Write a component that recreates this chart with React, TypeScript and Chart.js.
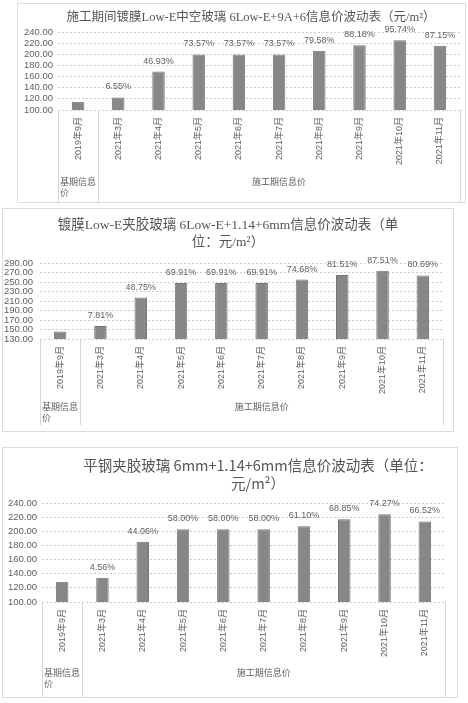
import React, { useEffect, useRef } from "react";
import { Chart, registerables } from "chart.js";
import type { ChartConfiguration, Plugin } from "chart.js";

Chart.register(...registerables);

// categories shared by all three charts
const months = [
  "2019年9月",
  "2021年3月",
  "2021年4月",
  "2021年5月",
  "2021年6月",
  "2021年7月",
  "2021年8月",
  "2021年9月",
  "2021年10月",
  "2021年11月",
];

// second level of the category axis
const groupNames = [["基期信息", "价"], ["施工期信息价"]];
const groupFirst = [0, 1];
const groupLast = [0, 9];

// 6Low-E+9A+6 hollow glass
const hollowPrices = [115.0, 122.53, 168.97, 199.61, 199.61, 199.61, 206.52, 216.41, 225.1, 215.22];
const hollowRises = ["", "6.55%", "46.93%", "73.57%", "73.57%", "73.57%", "79.58%", "88.18%", "95.74%", "87.15%"];
const hollowTicks = [100, 240, 20];

// 6Low-E+1.14+6mm laminated glass
const lowELamPrices = [146.0, 157.4, 217.18, 248.07, 248.07, 248.07, 255.03, 265.0, 273.76, 263.81];
const lowELamRises = ["", "7.81%", "48.75%", "69.91%", "69.91%", "69.91%", "74.68%", "81.51%", "87.51%", "80.69%"];
const lowELamTicks = [130, 290, 20];

// 6mm+1.14+6mm flat laminated glass
const flatLamPrices = [128.5, 134.36, 185.12, 203.03, 203.03, 203.03, 207.01, 216.97, 223.94, 213.98];
const flatLamRises = ["", "4.56%", "44.06%", "58.00%", "58.00%", "58.00%", "61.10%", "68.85%", "74.27%", "66.52%"];
const flatLamTicks = [100, 240, 20];

const SANS = "'Liberation Sans', 'Noto Sans CJK SC', sans-serif";
const SERIF = "'Liberation Serif', 'Noto Sans CJK SC', serif";
const CJK = "'Noto Sans CJK SC', sans-serif";
const TEXT = "#606060";
const GRID = "#cdcdcd";

type Spec = {
  width: number;
  height: number;
  plotLeft: number;
  plotRight: number;
  plotTop: number;
  boxBottom: number;
  plotBottom: number;
  yPad: number;
  values: number[];
  rises: string[];
  ticks: number[];
  title: string[];
  titleX: number;
  titleY: number;
  titleSize: number;
  titleFont: string;
  groupY: number;
};

// title, percent labels over the bars and the two-level category box
const decorations: Plugin<"bar"> = {
  id: "decorations",
  afterDraw(chart, _args, opts: any) {
    const ctx = chart.ctx;
    const area = chart.chartArea;
    const x = chart.scales.x;
    ctx.save();

    ctx.fillStyle = "#555";
    ctx.font = `${opts.titleSize}px ${opts.titleFont}`;
    ctx.textAlign = "center";
    ctx.textBaseline = "middle";
    opts.title.forEach((line: string, i: number) => {
      ctx.fillText(line, opts.titleX, opts.titleY + i * opts.titleSize * 1.3);
    });

    ctx.fillStyle = TEXT;
    ctx.font = `9px ${SANS}`;
    ctx.textBaseline = "bottom";
    chart.getDatasetMeta(0).data.forEach((bar: any, i: number) => {
      ctx.fillText(opts.rises[i], bar.x, bar.y - 6);
    });

    const half = (x.getPixelForValue(1) - x.getPixelForValue(0)) / 2;
    ctx.strokeStyle = "#d6d6d6";
    ctx.lineWidth = 1;
    const edges = [area.left, ...groupLast.map((g) => x.getPixelForValue(g) + half)];
    edges.forEach((ex) => {
      ctx.beginPath();
      ctx.moveTo(Math.round(ex) + 0.5, area.bottom);
      ctx.lineTo(Math.round(ex) + 0.5, opts.boxBottom);
      ctx.stroke();
    });

    ctx.fillStyle = TEXT;
    ctx.font = `9px ${CJK}`;
    ctx.textBaseline = "middle";
    groupNames.forEach((lines, g) => {
      const left = x.getPixelForValue(groupFirst[g]) - half;
      const right = x.getPixelForValue(groupLast[g]) + half;
      lines.forEach((line, i) => {
        if (lines.length > 1) {
          ctx.textAlign = "left";
          ctx.fillText(line, left + 2, opts.groupY + i * 11);
        } else {
          ctx.textAlign = "center";
          ctx.fillText(line, (left + right) / 2, opts.groupY);
        }
      });
    });
    ctx.restore();
  },
};

const buildConfig = (s: Spec): ChartConfiguration<"bar"> => ({
  type: "bar",
  data: {
    labels: months,
    datasets: [
      {
        data: s.values,
        backgroundColor: "#878787",
        borderColor: "#767676",
        borderWidth: 1,
        barPercentage: 0.31,
        categoryPercentage: 1,
      },
    ],
  },
  options: {
    responsive: false,
    animation: false,
    layout: {
      padding: { top: s.plotTop, right: s.width - s.plotRight, bottom: s.height - s.boxBottom, left: 0 },
    },
    plugins: {
      legend: { display: false },
      tooltip: { enabled: false },
      // @ts-ignore
      decorations: {
        title: s.title,
        titleX: s.titleX,
        titleY: s.titleY,
        titleSize: s.titleSize,
        titleFont: s.titleFont,
        rises: s.rises,
        boxBottom: s.boxBottom,
        groupY: s.groupY,
      },
    },
    scales: {
      x: {
        grid: { display: false, drawTicks: false },
        border: { display: false },
        ticks: {
          autoSkip: false,
          minRotation: 90,
          maxRotation: 90,
          padding: 7,
          color: TEXT,
          font: { size: 9, family: SANS },
        },
        afterFit: (scale) => {
          scale.height = s.boxBottom - s.plotBottom;
        },
      },
      y: {
        min: s.ticks[0],
        max: s.ticks[1],
        grid: { color: GRID, drawTicks: false },
        border: { display: false, dash: [2, 2] },
        ticks: {
          autoSkip: false,
          stepSize: s.ticks[2],
          padding: s.yPad,
          color: TEXT,
          font: { size: 9.5, family: SANS },
          callback: (v) => Number(v).toFixed(2),
        },
        afterFit: (scale) => {
          scale.width = s.plotLeft;
        },
      },
    },
  },
  plugins: [decorations],
});

const specs: { left: number; top: number; spec: Spec }[] = [
  {
    left: 17,
    top: 3,
    spec: {
      width: 449,
      height: 200,
      plotLeft: 41,
      plotRight: 443,
      plotTop: 29,
      plotBottom: 107,
      boxBottom: 199,
      yPad: 5,
      values: hollowPrices,
      rises: hollowRises,
      ticks: hollowTicks,
      title: ["施工期间镀膜Low-E中空玻璃 6Low-E+9A+6信息价波动表（元/m²）"],
      titleX: 234,
      titleY: 15,
      titleSize: 12.5,
      titleFont: SERIF,
      groupY: 179,
    },
  },
  {
    left: 2,
    top: 208,
    spec: {
      width: 452,
      height: 224,
      plotLeft: 38,
      plotRight: 441,
      plotTop: 55,
      plotBottom: 131,
      boxBottom: 217,
      yPad: 7,
      values: lowELamPrices,
      rises: lowELamRises,
      ticks: lowELamTicks,
      title: ["镀膜Low-E夹胶玻璃 6Low-E+1.14+6mm信息价波动表（单", "位：元/m²）"],
      titleX: 226,
      titleY: 17,
      titleSize: 13.5,
      titleFont: SERIF,
      groupY: 199,
    },
  },
  {
    left: 2,
    top: 447,
    spec: {
      width: 456,
      height: 251,
      plotLeft: 40,
      plotRight: 443,
      plotTop: 56,
      plotBottom: 155,
      boxBottom: 250,
      yPad: 5,
      values: flatLamPrices,
      rises: flatLamRises,
      ticks: flatLamTicks,
      title: ["平钢夹胶玻璃 6mm+1.14+6mm信息价波动表（单位：", "元/m²）"],
      titleX: 256,
      titleY: 18,
      titleSize: 14.5,
      titleFont: CJK,
      groupY: 226,
    },
  },
];

const PriceChart = ({ left, top, spec }: { left: number; top: number; spec: Spec }) => {
  const ref = useRef<HTMLCanvasElement>(null!);

  useEffect(() => {
    const chart = new Chart(ref.current, buildConfig(spec));
    return () => {
      chart.destroy();
    };
  }, []);

  return (
    <div
      style={{
        position: "absolute",
        left,
        top,
        width: spec.width,
        height: spec.height,
        border: "1px solid #dcdcdc",
        boxSizing: "border-box",
      }}
    >
      <canvas
        ref={ref}
        width={spec.width}
        height={spec.height}
        style={{ position: "absolute", left: -1, top: -1, width: spec.width, height: spec.height }}
      />
    </div>
  );
};

export default function App() {
  return (
    <div style={{ position: "absolute", left: 0, top: 0, width: 468, height: 703, background: "#fff" }}>
      {specs.map((c, i) => (
        <PriceChart key={i} left={c.left} top={c.top} spec={c.spec} />
      ))}
    </div>
  );
}
